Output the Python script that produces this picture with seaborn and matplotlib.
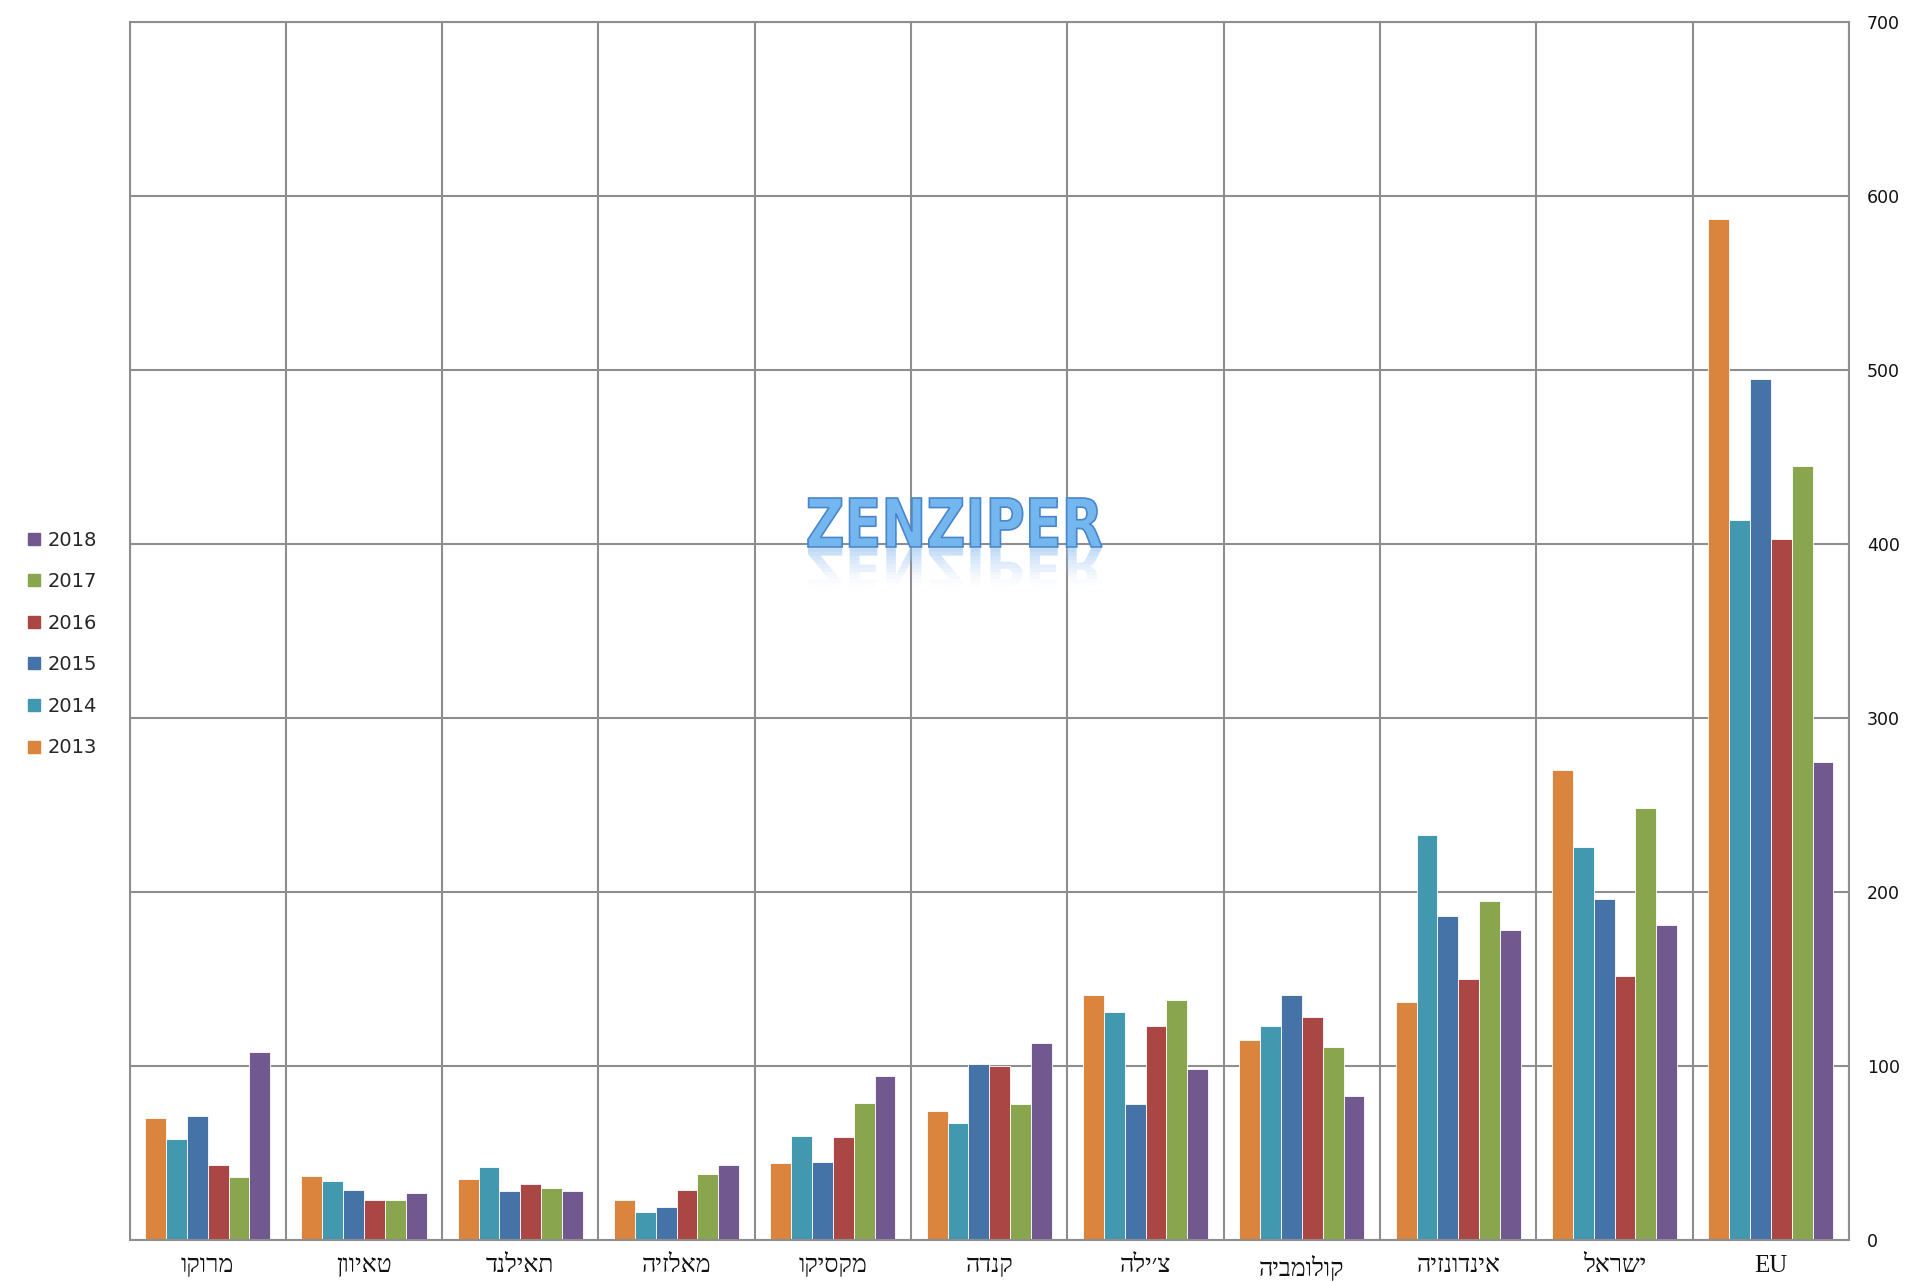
import numpy as np
import pandas as pd
import matplotlib
matplotlib.use("Agg")
import matplotlib.pyplot as plt
import seaborn as sns
from matplotlib.lines import Line2D
from matplotlib.textpath import TextPath
from matplotlib.font_manager import FontProperties
from matplotlib.patches import PathPatch, Rectangle
from matplotlib.transforms import Affine2D, IdentityTransform

# ---------------- data ----------------
countries = ["מרוקו", "טאיוון", "תאילנד", "מאלזיה", "מקסיקו", "קנדה",
             "צ׳ילה", "קולומביה", "אינדונזיה", "ישראל", "EU"]
years = ["2013", "2014", "2015", "2016", "2017", "2018"]

v2013 = [70, 37, 35, 23, 44, 74, 141, 115, 137, 270, 587]
v2014 = [58, 34, 42, 16, 60, 67, 131, 123, 233, 226, 414]
v2015 = [71, 29, 28, 19, 45, 101, 78, 141, 186, 196, 495]
v2016 = [43, 23, 32, 29, 59, 100, 123, 128, 150, 152, 403]
v2017 = [36, 23, 30, 38, 79, 78, 138, 111, 195, 248, 445]
v2018 = [108, 27, 28, 43, 94, 113, 98, 83, 178, 181, 275]

colors = ["#DB843D", "#4198AF", "#4572A7", "#AA4643", "#89A54E", "#71588F"]
y_ticks = [0, 100, 200, 300, 400, 500, 600, 700]

series = [v2013, v2014, v2015, v2016, v2017, v2018]
rows = []
for yr, vals in zip(years, series):
    for c, v in zip(countries, vals):
        rows.append({"country": c, "year": yr, "value": v})
df = pd.DataFrame(rows)

# ---------------- figure ----------------
sns.set_theme(style="white")
plt.rcParams["font.family"] = ["DejaVu Sans"]

W, H = 1920, 1282
fig = plt.figure(figsize=(W / 100, H / 100), dpi=100)
ax = fig.add_axes([129.5 / W, 1 - 1240 / H, (1849 - 129.5) / W, (1240 - 22) / H])

grid_col = "#8e8e8e"
sns.barplot(data=df, x="country", y="value", hue="year", order=countries,
            hue_order=years, palette=colors, width=0.8, edgecolor="white",
            linewidth=0.6, legend=False, ax=ax, saturation=1, errorbar=None)

ax.set_xlim(-0.5, len(countries) - 0.5)
ax.set_ylim(0, 700)
ax.set_xlabel("")
ax.set_ylabel("")

# y axis on the right
ax.yaxis.tick_right()
ax.set_yticks(y_ticks)
ax.set_yticklabels([str(t) for t in y_ticks], fontsize=12.5, color="#111111")
ax.tick_params(axis="y", length=0, pad=13)
ax.yaxis.grid(True, color=grid_col, linewidth=1.5)

# x categories (Hebrew shown right-to-left)
def rtl(s):
    if any("\u0590" <= ch <= "\u05FF" for ch in s):
        return s[::-1]
    return s

ax.set_xticks(range(len(countries)))
ax.set_xticklabels([rtl(c) for c in countries], fontsize=18,
                   family=["Liberation Serif", "DejaVu Sans"], color="#111111")
ax.tick_params(axis="x", which="major", length=0, pad=11)
ax.set_xticks(np.arange(-0.5, len(countries), 1.0), minor=True)
ax.tick_params(axis="x", which="minor", length=5, width=1.5, color=grid_col,
               direction="out")
ax.xaxis.grid(True, which="minor", color=grid_col, linewidth=1.5)
ax.xaxis.grid(False, which="major")
ax.set_axisbelow(True)

for sp in ax.spines.values():
    sp.set_visible(True)
    sp.set_color(grid_col)
    sp.set_linewidth(1.5)

# legend on the left (2018 on top)
handles = [Line2D([0], [0], marker="s", linestyle="", markersize=8.5,
                  markerfacecolor=colors[i], markeredgecolor=colors[i])
           for i in range(len(years))][::-1]
labels = years[::-1]
fig.legend(handles, labels, loc="center left", bbox_to_anchor=(17 / W, 1 - 644 / H),
           frameon=False, fontsize=14, handlelength=0.7, handletextpad=0.35,
           labelspacing=1.16, borderpad=0)

# watermark "ZENZIPER" with fading reflection
fp = FontProperties(family="DejaVu Sans", weight="bold")
tp = TextPath((0, 0), "ZENZIPER", size=100, prop=fp)
ext = tp.get_extents()
x0, x1, y0_img, y1_img = 808, 1102, 498, 547
sx = (x1 - x0) / ext.width
sy = (y1_img - y0_img) / ext.height
base_y = H - y1_img
tr = Affine2D().translate(-ext.x0, -ext.y0).scale(sx, sy).translate(x0, base_y)
main = tr.transform_path(tp)
fig.patches.append(PathPatch(main, facecolor="#74b6ee", edgecolor="#4a86cc",
                             linewidth=1.2, transform=IdentityTransform(),
                             figure=fig, zorder=5))
refl_h = (y1_img - y0_img) * 0.8
tr2 = (Affine2D().translate(-ext.x0, -ext.y0).scale(sx, -sy * 0.8)
       .translate(x0, base_y - 1))
refl = tr2.transform_path(tp)
nstrips = 10
for k in range(nstrips):
    top = base_y - 1 - k * refl_h / nstrips
    clip = Rectangle((x0 - 5, top - refl_h / nstrips), (x1 - x0) + 10,
                     refl_h / nstrips, transform=IdentityTransform())
    p = PathPatch(refl, facecolor="#8fbff0", edgecolor="none",
                  alpha=0.55 * (1 - k / nstrips) ** 1.5,
                  transform=IdentityTransform(), figure=fig, zorder=5)
    p.set_clip_path(clip)
    fig.patches.append(p)

fig.savefig("out.png", dpi=100, facecolor="white")
